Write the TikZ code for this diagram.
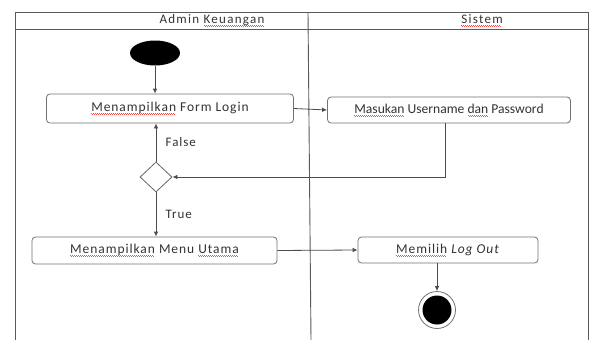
\documentclass[tikz,border=0pt]{standalone}
\usepackage{fontspec}
\setmainfont{Carlito}
\usetikzlibrary{shapes.geometric,arrows.meta}
\newsavebox\wavebox
\newcommand\redwave[1]{\sbox\wavebox{#1}\rlap{\textcolor{red!70}{\leaders\hbox{\rule[-2.4pt]{1pt}{0.55pt}\rule[-3.2pt]{1pt}{0.55pt}}\hskip\wd\wavebox}}\usebox\wavebox}
\tikzset{
  frame/.style={draw=black!65, line width=0.9pt},
  act/.style={draw=black!55, line width=0.8pt, rounded corners=3.5pt, fill=white, inner sep=0pt, font=\fontsize{13.5}{15}\selectfont\addfontfeature{LetterSpace=7}, text=black!80},
  arr/.style={draw=black!70, line width=0.8pt, -{Latex[length=5pt,width=4.5pt]}},
  dec/.style={diamond, draw=black!60, line width=0.8pt, fill=white, inner sep=0pt, minimum width=32pt, minimum height=30pt},
  lbl/.style={font=\fontsize{13}{15}\selectfont\addfontfeature{LetterSpace=7}, text=black!80},
  hdr/.style={font=\fontsize{13}{15}\selectfont\addfontfeature{LetterSpace=10}, text=black!80}
}
\begin{document}
\begin{tikzpicture}[x=1pt,y=-1pt]
\useasboundingbox (0,0) rectangle (590,340);
\fill[white] (0,0) rectangle (590,340);
% swimlane frame
\draw[frame] (15,340) -- (15,12) -- (588,12) -- (588,340);
\draw[frame] (15,29) -- (588,29);
\draw[frame] (308,12) -- (311,340);
\node[hdr] (laneA) at (212,20.5) {Admin \redwave{Keuangan}};
\node[hdr] (laneB) at (482,20.5) {\redwave{Sistem}};
% nodes
\node[ellipse, fill=black, minimum width=50pt, minimum height=25pt, inner sep=0pt] (start) at (155,53) {};
\node[act, minimum width=247pt, minimum height=29pt] (login) at (170,108.5) {\redwave{Menampilkan} Form Login};
\node[act, minimum width=243pt, minimum height=26pt, font=\fontsize{13.6}{15}\selectfont] (input) at (449,110) {\redwave{Masukan} Username \redwave{dan} Password};
\node[dec] (dec) at (156,177) {};
\node[act, minimum width=245pt, minimum height=27pt] (menu) at (154.5,250.5) {\redwave{Menampilkan} Menu \redwave{Utama}};
\node[act, minimum width=180pt, minimum height=26pt] (logout) at (448,250) {\redwave{Memilih} \textit{Log Out}};
\node[circle, draw=black!55, line width=0.8pt, fill=white, minimum size=37pt, inner sep=0pt] (end) at (437,310) {};
\node[circle, fill=black, minimum size=29pt, inner sep=0pt] (endin) at (end.center) {};
% connectors
\draw[arr] (start.south) -- (start.south |- login.north);
\draw[arr] (login.east) -- (input.west);
\draw[arr] ([xshift=-4pt]input.south) |- (dec.east);
\draw[arr] (dec.north) -- node[lbl, right=6pt] (false) {False} (dec.north |- login.south);
\draw[arr] (dec.south) -- node[lbl, right=6pt] (true) {True} (dec.south |- menu.north);
\draw[arr] (menu.east) -- (logout.west);
\draw[arr] (end.north |- logout.south) -- (end.north);
\end{tikzpicture}
\end{document}
